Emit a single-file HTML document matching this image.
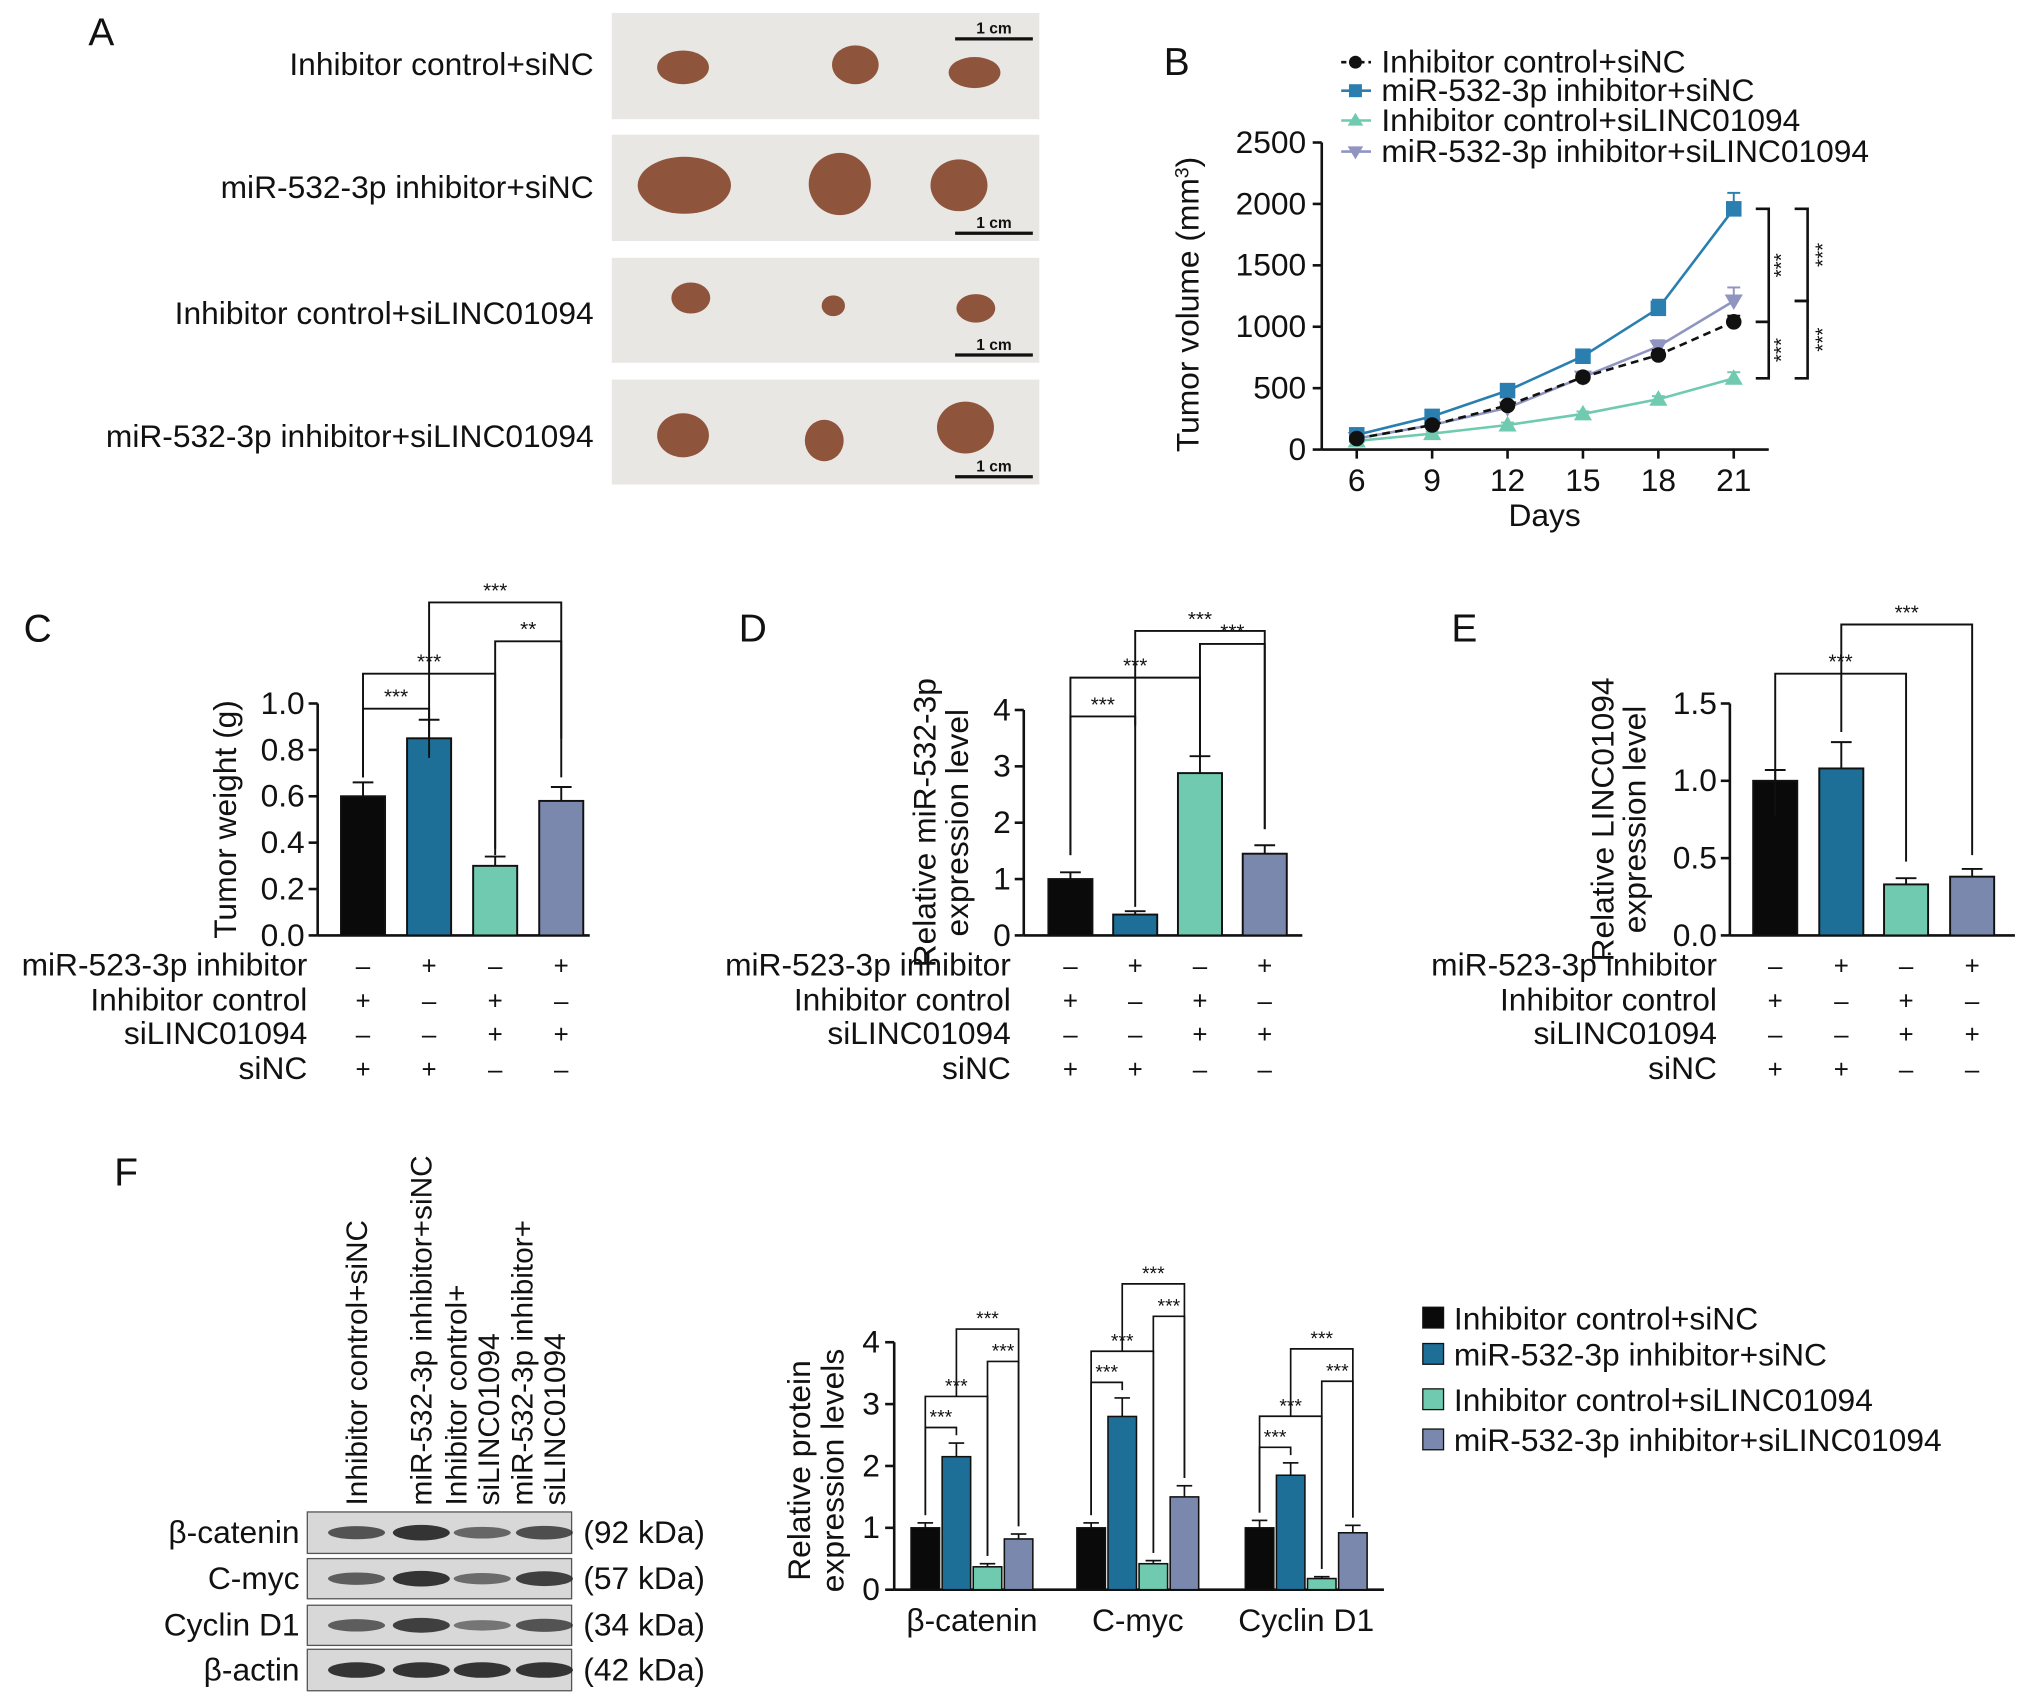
<!DOCTYPE html>
<html><head><meta charset="utf-8"><style>
html,body{margin:0;padding:0;background:#fff;}
svg{display:block;font-family:"Liberation Sans",Arial,sans-serif;}
</style></head><body>
<svg id="fig" width="2032" height="1705" viewBox="0 0 1568 1316">
<g id="root"></g>
</svg>
<script>
// ---- data ----
const days=[6,9,12,15,18,21];
const volCtrl=[90,200,360,590,770,1040];
const volMir=[120,270,480,760,1150,1960];
const volSi=[70,130,200,290,410,580];
const volBoth=[90,200,340,590,840,1210];
const volErr=[[15,20,25,30,40,50],[20,25,30,40,70,130],[10,15,20,20,25,50],[15,20,25,30,50,110]];
const volTicks=[0,500,1000,1500,2000,2500];
const weightVals=[0.6,0.85,0.3,0.58];
const weightErr=[0.06,0.08,0.04,0.06];
const weightTicks=[0,0.2,0.4,0.6,0.8,1.0];
const mirVals=[1,0.37,2.88,1.45];
const mirErr=[0.12,0.06,0.3,0.15];
const mirTicks=[0,1,2,3,4];
const lincVals=[1,1.08,0.33,0.38];
const lincErr=[0.07,0.17,0.04,0.05];
const lincTicks=[0,0.5,1.0,1.5];
const protCats=["β-catenin","C-myc","Cyclin D1"];
const protVals=[[1,2.15,0.37,0.82],[1,2.8,0.42,1.5],[1,1.85,0.18,0.92]];
const protErr=[[0.08,0.22,0.05,0.08],[0.08,0.3,0.05,0.18],[0.12,0.2,0.03,0.12]];
const protTicks=[0,1,2,3,4];
const groups=["Inhibitor control+siNC","miR-532-3p inhibitor+siNC","Inhibitor control+siLINC01094","miR-532-3p inhibitor+siLINC01094"];
const colors=["#0a0a0a","#1d6f97","#6fcab0","#7a88ad"];
const signRows=[["–","+","–","+"],["+","–","+","–"],["–","–","+","+"],["+","+","–","–"]];
const signLabels=["miR-523-3p inhibitor","Inhibitor control","siLINC01094","siNC"];

const FS=24.5;
const NS="http://www.w3.org/2000/svg";
const root=document.getElementById('root');
function el(tag,attrs,parent,text){const e=document.createElementNS(NS,tag);for(const k in attrs)e.setAttribute(k,attrs[k]);if(text!==undefined)e.textContent=text;(parent||root).appendChild(e);return e;}
function txt(x,y,s,size,anchor,parent,extra){const t=el('text',Object.assign({x:x,y:y,'font-size':size,'text-anchor':anchor||'start',fill:'#111'},extra||{}),parent,s);return t;}

[["A",68,35],["B",898,58],["C",18,495],["D",570,495],["E",1120,495],["F",88,915]].forEach(p=>{
 const t=txt(p[1],p[2],p[0],30,'start');
 
 
});

// ---- Panel A ----
const gA=el('g',{});


const rowsY=[[10,92],[104,186],[199,280],[293,374]];
const blobs=[[[527,52,20,13],[660,50,18,15],[752,56,20,12]],[[528,143,36,22],[648,142,24,24],[740,143,22,20]],[[533,230,15,12],[643,236,9,8],[753,238,15,11]],[[527,336,20,17],[636,340,15,16],[745,330,22,20]]];
rowsY.forEach((r,i)=>{
 el('rect',{x:472,y:r[0],width:330,height:r[1]-r[0],fill:'#e9e7e3'},gA);
 blobs[i].forEach(b=>el('ellipse',{cx:b[0],cy:b[1],rx:b[2],ry:b[3],fill:'#8f553c'},gA));
 const sy=i==0?30:r[1]-6;
 el('line',{x1:737,x2:797,y1:sy,y2:sy,stroke:'#111','stroke-width':2.5},gA);
 txt(767,sy-4,"1 cm",12,'middle',gA,{'font-weight':'bold'});
 txt(458,[58,153,250,345][i],groups[i],FS,'end',gA);
});

// ---- Panel B ----
const gB=el('g',{});


const bx=d=>1047+(d-6)*(1338-1047)/15, by=v=>347-v*(347-110)/2500;
el('line',{x1:1020,x2:1020,y1:110,y2:347,stroke:'#111','stroke-width':2},gB);
el('line',{x1:1020,x2:1365,y1:347,y2:347,stroke:'#111','stroke-width':2},gB);
volTicks.forEach(v=>{el('line',{x1:1013,x2:1020,y1:by(v),y2:by(v),stroke:'#111','stroke-width':2},gB);txt(1008,by(v)+8,String(v),FS,'end',gB);});
days.forEach(d=>{el('line',{x1:bx(d),x2:bx(d),y1:347,y2:354,stroke:'#111','stroke-width':2},gB);txt(bx(d),379,String(d),FS,'middle',gB);});
txt(1192,406,"Days",FS,'middle',gB);
const yt=txt(0,0,"",FS,'middle',gB,{transform:'translate(925,235) rotate(-90)'});
yt.innerHTML='Tumor volume (mm<tspan dy="-8" font-size="15">3</tspan><tspan dy="8">)</tspan>';

const series=[volCtrl,volMir,volSi,volBoth];
const lcol=["#111","#2a7fb0","#6fcab0","#8f95c0"];
[3,2,1,0].forEach(s=>{
 const pts=days.map((d,i)=>bx(d)+','+by(series[s][i])).join(' ');
 const pl=el('polyline',{points:pts,fill:'none',stroke:lcol[s],'stroke-width':2,'stroke-dasharray':s==0?'6,4':'none'},gB);
 
 
 days.forEach((d,i)=>{
  const x=bx(d),y=by(series[s][i]),e=volErr[s][i];
  el('line',{x1:x,x2:x,y1:y,y2:by(series[s][i]+e),stroke:lcol[s],'stroke-width':1.5},gB);
  el('line',{x1:x-5,x2:x+5,y1:by(series[s][i]+e),y2:by(series[s][i]+e),stroke:lcol[s],'stroke-width':1.5},gB);
  if(s==0)el('circle',{cx:x,cy:y,r:6,fill:'#111'},gB);
  else if(s==1)el('rect',{x:x-6,y:y-6,width:12,height:12,fill:'#2a7fb0'},gB);
  else if(s==2)el('polygon',{points:`${x},${y-7} ${x-7},${y+5} ${x+7},${y+5}`,fill:'#6fcab0'},gB);
  else el('polygon',{points:`${x},${y+7} ${x-7},${y-5} ${x+7},${y-5}`,fill:'#8f95c0'},gB);
 });
});
function brk(x,y1,y2,g){el('polyline',{points:`${x-10},${y1} ${x},${y1} ${x},${y2} ${x-10},${y2}`,fill:'none',stroke:'#111','stroke-width':2},g);}
brk(1365,by(1960),by(1040),gB);brk(1365,by(1040),by(580),gB);
brk(1395,by(1960),by(1210),gB);brk(1395,by(1210),by(580),gB);
[[1375,(by(1960)+by(1040))/2],[1375,(by(1040)+by(580))/2],[1407,(by(1960)+by(1210))/2],[1407,(by(1210)+by(580))/2]].forEach(p=>txt(0,0,"***",16,'middle',gB,{transform:`translate(${p[0]+5},${p[1]}) rotate(-90)`}));
const legB=el('g',{});


[48,70,93,117].forEach((y,i)=>{
 el('line',{x1:1035,x2:1058,y1:y,y2:y,stroke:lcol[i],'stroke-width':2,'stroke-dasharray':i==0?'4,3':'none'},legB);
 if(i==0)el('circle',{cx:1046,cy:y,r:5,fill:'#111'},legB);
 else if(i==1)el('rect',{x:1041,y:y-5,width:10,height:10,fill:lcol[1]},legB);
 else if(i==2)el('polygon',{points:`1046,${y-6} 1040,${y+4} 1052,${y+4}`,fill:lcol[2]},legB);
 else el('polygon',{points:`1046,${y+6} 1040,${y-4} 1052,${y-4}`,fill:lcol[3]},legB);
 txt(1066,y+8,groups[i],FS,'start',legB);
});

// ---- bar panels C,D,E ----
function barPanel(name,axX,axRight,y0,yTop,maxV,ticks,vals,errs,centers,ytitle,ytX,sigs,labelX,tickFmt){
 const g=el('g',{});
 
 
 const sy=v=>y0-v*(y0-yTop)/maxV;
 el('line',{x1:axX,x2:axX,y1:yTop,y2:y0,stroke:'#111','stroke-width':2},g);
 el('line',{x1:axX,x2:axRight,y1:y0,y2:y0,stroke:'#111','stroke-width':2},g);
 ticks.forEach(v=>{el('line',{x1:axX-7,x2:axX,y1:sy(v),y2:sy(v),stroke:'#111','stroke-width':2},g);txt(axX-10,sy(v)+8,tickFmt(v),FS,'end',g);});
 vals.forEach((v,i)=>{
  const c=centers[i];
  const b=el('rect',{x:c-17,y:sy(v),width:34,height:y0-sy(v),fill:colors[i],stroke:'#111','stroke-width':1.5},g);
  
  
  const ey=sy(v+errs[i]);
  el('line',{x1:c,x2:c,y1:sy(v),y2:ey,stroke:'#111','stroke-width':1.5},g);
  el('line',{x1:c-8,x2:c+8,y1:ey,y2:ey,stroke:'#111','stroke-width':1.5},g);
 });
 ytitle.forEach((t,k)=>txt(0,0,t,FS,'middle',g,{transform:`translate(${ytX+k*25},${(y0+yTop)/2}) rotate(-90)`}));
 sigs.forEach(s=>{
  const a=centers[s[0]],b=centers[s[1]],y=s[2];
  el('polyline',{points:`${a},${s[4]} ${a},${y} ${b},${y} ${b},${s[5]}`,fill:'none',stroke:'#111','stroke-width':1.5},g);
  txt((a+b)/2,y-4,s[3],16,'middle',g);
 });
 [745,772,798,825].forEach((y,r)=>{
  txt(labelX,y+8,signLabels[r],FS,'end',g);
  centers.forEach((c,i)=>txt(c,y+7,signRows[r][i],20,'middle',g));
 });
 return g;
}
const fmt1=v=>v.toFixed(1);
barPanel('tumor-weight-chart',245,455,722,543,1.0,weightTicks,weightVals,weightErr,[280,331,382,433],["Tumor weight (g)"],182,
 [[0,1,547,"***",600,585],[0,2,520,"***",600,660],[2,3,495,"**",655,600],[1,3,465,"***",560,570]],237,fmt1);
barPanel('mir-expression-chart',790,1005,722,548,4,mirTicks,mirVals,mirErr,[826,876,926,976],["Relative miR-532-3p","expression level"],722,
 [[0,1,553,"***",660,700],[0,2,523,"***",660,585],[2,3,497,"***",585,640],[1,3,487,"***",560,640]],780,v=>String(v));
barPanel('linc-expression-chart',1335,1555,722,543,1.5,lincTicks,lincVals,lincErr,[1370,1421,1471,1522],["Relative LINC01094","expression level"],1245,
 [[0,2,520,"***",630,665],[1,3,482,"***",565,660]],1325,fmt1);

// ---- Panel F blot ----
const gF=el('g',{});


const lanes=[275,325,372,420];
const blotRows=[["β-catenin","(92 kDa)",1167,1199,[0.7,1,0.5,0.75]],["C-myc","(57 kDa)",1203,1234,[0.6,1,0.45,0.9]],["Cyclin D1","(34 kDa)",1239,1270,[0.6,0.9,0.35,0.7]],["β-actin","(42 kDa)",1273,1305,[1,1,1,1]]];
blotRows.forEach(r=>{
 el('rect',{x:237,y:r[2],width:204,height:r[3]-r[2],fill:'#d8d8d8',stroke:'#555','stroke-width':1},gF);
 const cy=(r[2]+r[3])/2;
 lanes.forEach((x,i)=>el('ellipse',{cx:x,cy:cy,rx:22,ry:3+3*r[4][i],fill:'#222','fill-opacity':0.35+0.55*r[4][i]},gF));
 txt(231,cy+8,r[0],FS,'end',gF);
 txt(450,cy+8,r[1],FS,'start',gF);
});
[["Inhibitor control+siNC"],["miR-532-3p inhibitor+siNC"],["Inhibitor control+","siLINC01094"],["miR-532-3p inhibitor+","siLINC01094"]].forEach((l,i)=>{
 l.forEach((s,k)=>txt(0,0,s,23,'start',gF,{transform:`translate(${[275,325,352,403][i]+8+k*25},1162) rotate(-90)`}));
});

// ---- Panel F chart ----
const gP=el('g',{});


const py=v=>1227-v*(1227-1036)/4;
const gx=[750,878,1008];
el('line',{x1:690,x2:690,y1:1036,y2:1227,stroke:'#111','stroke-width':2},gP);
el('line',{x1:690,x2:1068,y1:1227,y2:1227,stroke:'#111','stroke-width':2},gP);
protTicks.forEach(v=>{el('line',{x1:683,x2:690,y1:py(v),y2:py(v),stroke:'#111','stroke-width':2},gP);txt(679,py(v)+8,String(v),FS,'end',gP);});
protCats.forEach((c,ci)=>{
 txt(gx[ci],1259,c,FS,'middle',gP);
 const cs=[-36,-12,12,36].map(o=>gx[ci]+o);
 protVals[ci].forEach((v,i)=>{
  const b=el('rect',{x:cs[i]-11,y:py(v),width:22,height:1227-py(v),fill:colors[i],stroke:'#111','stroke-width':1.2},gP);
  
  
  const ey=py(v+protErr[ci][i]);
  el('line',{x1:cs[i],x2:cs[i],y1:py(v),y2:ey,stroke:'#111','stroke-width':1.3},gP);
  el('line',{x1:cs[i]-6,x2:cs[i]+6,y1:ey,y2:ey,stroke:'#111','stroke-width':1.3},gP);
 });
 const hv=protVals[ci].map((v,i)=>py(v+protErr[ci][i])-6);
 const top=py(protVals[ci][1]+protErr[ci][1]);
 [[0,1,top-12,hv[0],hv[1]],[0,2,top-36,hv[0],hv[2]],[2,3,top-63,hv[2],hv[3]],[1,3,top-88,top-36,hv[3]]].forEach(s=>{
  el('polyline',{points:`${cs[s[0]]},${s[3]} ${cs[s[0]]},${s[2]} ${cs[s[1]]},${s[2]} ${cs[s[1]]},${s[4]}`,fill:'none',stroke:'#111','stroke-width':1.3},gP);
  txt((cs[s[0]]+cs[s[1]])/2,s[2]-3,"***",15,'middle',gP);
 });
});
txt(0,0,"Relative protein",FS,'middle',gP,{transform:'translate(625,1135) rotate(-90)'});
txt(0,0,"expression levels",FS,'middle',gP,{transform:'translate(651,1135) rotate(-90)'});
const legF=el('g',{});


[1018,1046,1081,1112].forEach((y,i)=>{
 el('rect',{x:1098,y:y-9,width:16,height:16,fill:colors[i],stroke:'#111','stroke-width':1},legF);
 txt(1122,y+8,groups[i],FS,'start',legF);
});
</script>
</body></html>
